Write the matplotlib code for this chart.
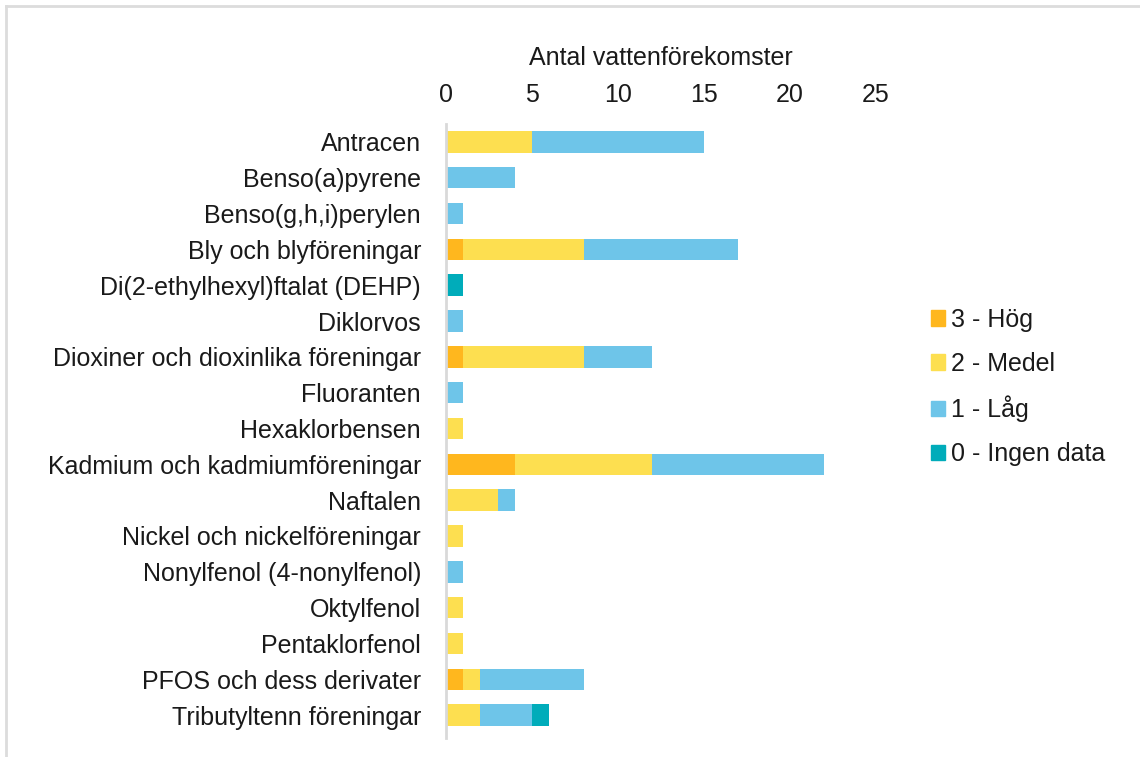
import matplotlib
matplotlib.use("Agg")
import matplotlib.pyplot as plt
from matplotlib.lines import Line2D
import numpy as np

plt.rcParams['font.family'] = ['Liberation Sans', 'DejaVu Sans']

categories = [
    "Antracen", "Benso(a)pyrene", "Benso(g,h,i)perylen", "Bly och blyföreningar",
    "Di(2-ethylhexyl)ftalat (DEHP)", "Diklorvos", "Dioxiner och dioxinlika föreningar",
    "Fluoranten", "Hexaklorbensen", "Kadmium och kadmiumföreningar", "Naftalen",
    "Nickel och nickelföreningar", "Nonylfenol (4-nonylfenol)", "Oktylfenol",
    "Pentaklorfenol", "PFOS och dess derivater", "Tributyltenn föreningar",
]
hog =    [0, 0, 0, 1, 0, 0, 1, 0, 0, 4, 0, 0, 0, 0, 0, 1, 0]
medel =  [5, 0, 0, 7, 0, 0, 7, 0, 1, 8, 3, 1, 0, 1, 1, 1, 2]
lag =    [10, 4, 1, 9, 0, 1, 4, 1, 0, 10, 1, 0, 1, 0, 0, 6, 3]
ingen =  [0, 0, 0, 0, 1, 0, 0, 0, 0, 0, 0, 0, 0, 0, 0, 0, 1]
series_labels = ["3 - Hög", "2 - Medel", "1 - Låg", "0 - Ingen data"]
colors = ["#FFB71E", "#FDDF50", "#6EC5E9", "#00ACBA"]
xticks = [0, 5, 10, 15, 20, 25]
xlabel = "Antal vattenförekomster"

fig = plt.figure(figsize=(11.4, 7.57), dpi=100)
ax = fig.add_axes([446/1140, 1-733/757, 430/1140, (733-124)/757])

y = np.arange(len(categories))
left = np.zeros(len(categories))
for vals, col, lab in zip([hog, medel, lag, ingen], colors, series_labels):
    v = np.array(vals, dtype=float)
    ax.barh(y, v, left=left, height=0.6, color=col, label=lab, edgecolor='none')
    left += v

ax.set_xlim(0, 25)
ax.set_ylim(len(categories)-0.5, -0.5)
ax.set_yticks(y)
ax.set_yticklabels(categories, fontsize=18, color="#1a1a1a")
ax.set_xticks(xticks)
ax.set_xticklabels([str(t) for t in xticks], fontsize=18, color="#1a1a1a")
ax.xaxis.tick_top()
ax.xaxis.set_label_position('top')
ax.set_xlabel(xlabel, fontsize=18, color="#1a1a1a", labelpad=13)
ax.tick_params(axis='x', length=0, pad=12)
ax.tick_params(axis='y', length=0, pad=18)
for s in ['top', 'right', 'bottom']:
    ax.spines[s].set_visible(False)
ax.spines['left'].set_color('#d9d9d9')
ax.spines['left'].set_linewidth(2)
ax.spines['left'].set_bounds(len(categories)-0.5+0.15, -0.5)

handles = [plt.Rectangle((0, 0), 1, 1, color=c) for c in colors]
fig.legend(handles, series_labels, loc='center left', bbox_to_anchor=(908/1140, 1-387/757),
           frameon=False, fontsize=18, handlelength=0.58, handleheight=0.58,
           handletextpad=0.25, labelspacing=0.8, labelcolor="#1a1a1a")

fig.add_artist(Line2D([6/1140, 6/1140], [0, 1-6/757], transform=fig.transFigure, color='#dcdcdc', lw=2))
fig.add_artist(Line2D([6/1140, 1], [1-6/757, 1-6/757], transform=fig.transFigure, color='#dcdcdc', lw=2))

fig.savefig("out.png", dpi=100, facecolor='white')
